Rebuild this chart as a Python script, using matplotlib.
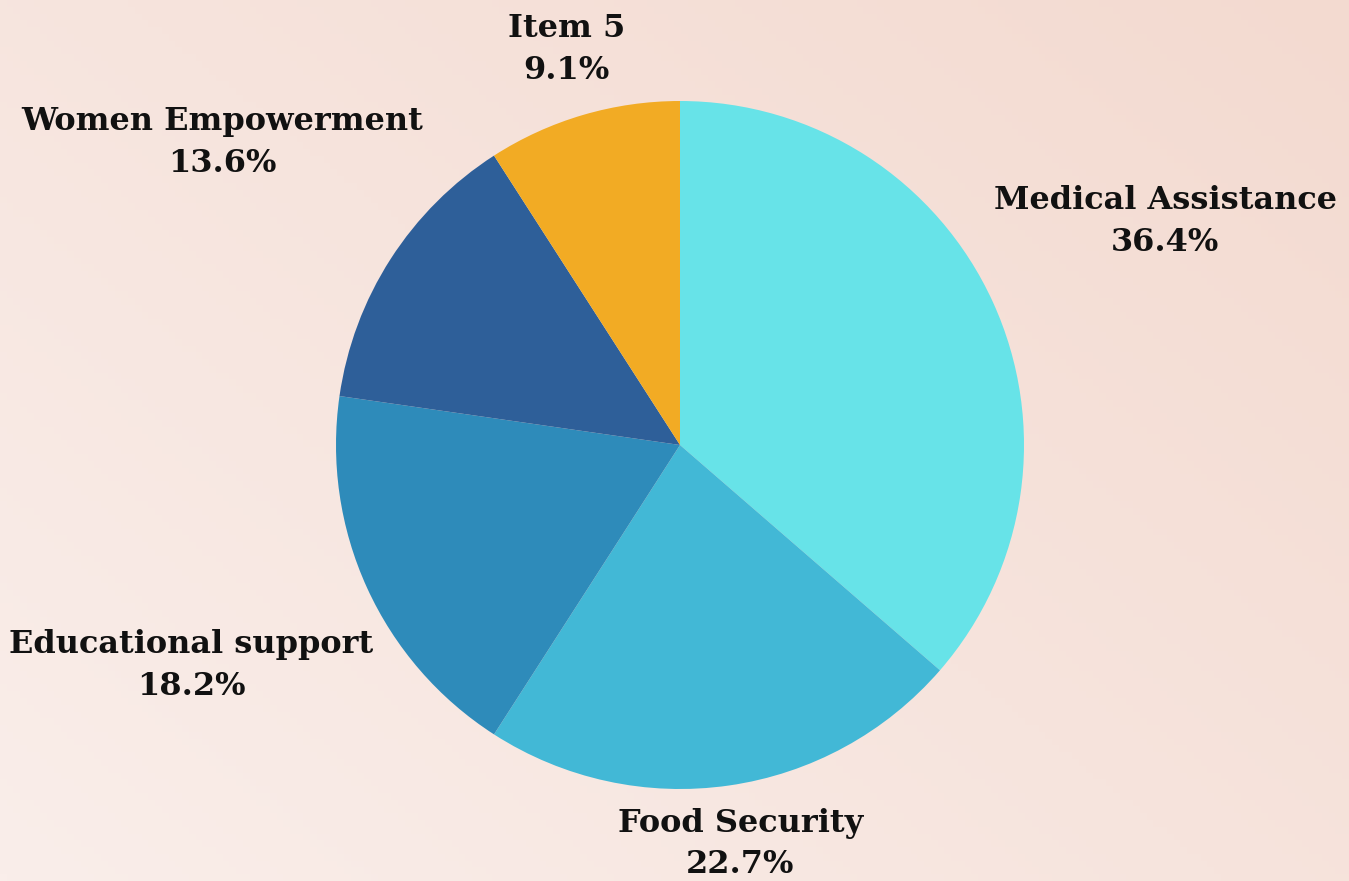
import numpy as np
import matplotlib.pyplot as plt

labels = ['Medical Assistance', 'Food Security', 'Educational support', 'Women Empowerment', 'Item 5']
values = [8, 5, 4, 3, 2]
colors = ['#67E3E8', '#42B8D6', '#2E8BBA', '#2E5F99', '#F2AB24']
# label centres, in units of the pie radius
label_pos = [(1.41, 0.65), (0.175, -1.16), (-1.42, -0.64), (-1.33, 0.88), (-0.33, 1.15)]

W, H = 1349, 881
R = 344.0
cx, cy = 680, 445

fig = plt.figure(figsize=(W / 100, H / 100), dpi=100)
ax = fig.add_axes([0, 0, 1, 1])
x0, x1 = -cx / R, (W - cx) / R
y0, y1 = -(H - cy) / R, cy / R

# soft pinkish paper background
gx = np.linspace(0, 1, 200)
gy = np.linspace(0, 1, 130)
GX, GY = np.meshgrid(gx, gy)
t = np.clip(0.55 * GX + 0.45 * (1 - GY), 0, 1)
c_light = np.array([250, 238, 234]) / 255
c_pink = np.array([243, 218, 208]) / 255
bg = c_light + (c_pink - c_light) * t[..., None]
ax.imshow(bg, extent=[x0, x1, y0, y1], origin='upper', aspect='auto', zorder=0)

wedges, _ = ax.pie(values, colors=colors, startangle=90, counterclock=False,
                   radius=1, center=(0, 0), wedgeprops=dict(linewidth=0))
for w in wedges:
    w.set_zorder(2)

total = sum(values)
for lab, v, (lx, ly) in zip(labels, values, label_pos):
    ax.text(lx, ly, '%s\n%.1f%%' % (lab, 100.0 * v / total), ha='center', va='center',
            fontsize=23, fontweight='bold', family='DejaVu Serif', linespacing=1.45,
            color='#111111', zorder=3)

ax.set_xlim(x0, x1)
ax.set_ylim(y0, y1)
ax.set_aspect('auto')
ax.axis('off')
fig.savefig('out.png', dpi=100)
